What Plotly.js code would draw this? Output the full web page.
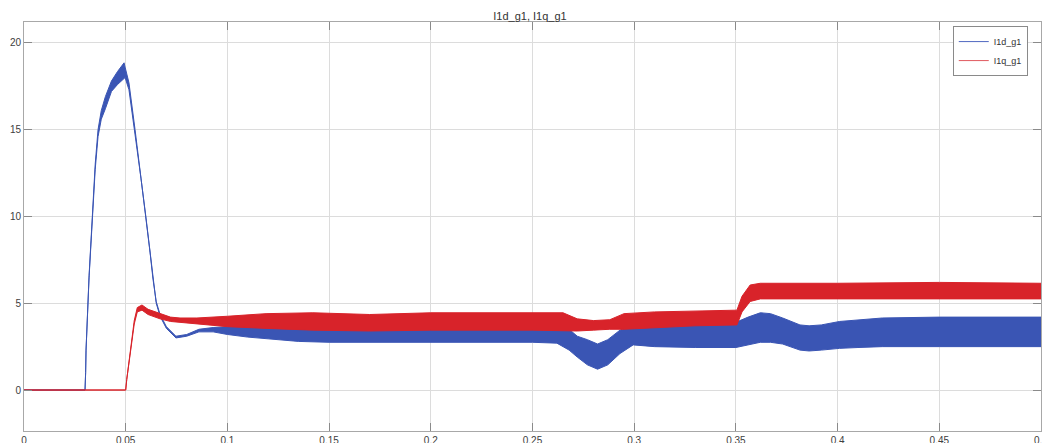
<!DOCTYPE html>
<html>
<head>
<meta charset="utf-8">
<script src="https://cdn.plot.ly/plotly-3.0.1.min.js"></script>
<style>
  html, body { margin: 0; padding: 0; background: #ffffff; }
  #chart { width: 1042px; height: 443px; }
</style>
</head>
<body>
<div id="chart"></div>
<script>
// ---- Data (envelopes of the oscillating signals) ----
const seriesNames = ["I1d_g1", "I1q_g1"];

// I1d_g1 (blue) envelope
const tD = [0, 0.03, 0.0303, 0.0305, 0.032, 0.0334, 0.035, 0.0364, 0.038, 0.040, 0.043, 0.046, 0.0492, 0.0497,
            0.0516, 0.0546, 0.0575, 0.060, 0.062, 0.0634, 0.065, 0.0669, 0.070, 0.0747, 0.080, 0.086, 0.093, 0.100,
            0.11, 0.12, 0.135, 0.15, 0.2, 0.25, 0.262, 0.268, 0.272, 0.277, 0.282, 0.287, 0.293, 0.2995, 0.31, 0.33,
            0.35, 0.356, 0.362, 0.367, 0.373, 0.3815, 0.386, 0.392, 0.401, 0.41, 0.422, 0.45, 0.48, 0.5];
const dUpper = [0, 0, 1.0, 2.3, 6.6, 10.0, 13.0, 15.0, 16.1, 16.9, 17.8, 18.35, 18.85, 18.6,
                17.7, 15.0, 12.3, 10.0, 7.9, 6.4, 5.1, 4.35, 3.65, 3.1, 3.2, 3.5, 3.6, 3.65,
                3.75, 3.85, 3.9, 3.95, 4.0, 4.0, 3.9, 3.5, 3.1, 2.9, 2.65, 2.9, 3.45, 3.75, 3.9, 3.85,
                3.9, 4.2, 4.45, 4.4, 4.15, 3.75, 3.7, 3.75, 3.95, 4.05, 4.15, 4.2, 4.2, 4.2];
const dLower = [0, 0, 1.0, 2.3, 6.5, 9.8, 12.7, 14.6, 15.6, 16.2, 17.2, 17.6, 17.95, 18.0,
                17.3, 14.8, 12.2, 9.9, 7.8, 6.3, 5.0, 4.25, 3.55, 3.0, 3.1, 3.35, 3.35, 3.2,
                3.05, 2.95, 2.8, 2.75, 2.75, 2.75, 2.7, 2.3, 1.9, 1.45, 1.2, 1.45, 2.1, 2.6, 2.5, 2.45,
                2.45, 2.6, 2.75, 2.75, 2.65, 2.3, 2.25, 2.3, 2.4, 2.45, 2.5, 2.5, 2.5, 2.5];

// I1q_g1 (red) envelope
const tQ = [0, 0.05, 0.0505, 0.0526, 0.0542, 0.0557, 0.058, 0.061, 0.0669, 0.072, 0.0767, 0.085, 0.1, 0.119,
            0.142, 0.17, 0.2, 0.25, 0.265, 0.272, 0.28, 0.288, 0.295, 0.31, 0.33, 0.3505, 0.353, 0.357, 0.362,
            0.4, 0.45, 0.5];
const qUpper = [0, 0, 0.6, 2.5, 4.0, 4.75, 4.9, 4.65, 4.4, 4.2, 4.15, 4.15, 4.25, 4.4,
                4.45, 4.35, 4.45, 4.45, 4.45, 4.1, 4.0, 4.05, 4.4, 4.5, 4.55, 4.6, 5.4, 6.05, 6.15,
                6.15, 6.2, 6.15];
const qLower = [0, 0, 0.6, 2.4, 3.8, 4.5, 4.6, 4.35, 4.1, 3.95, 3.9, 3.85, 3.65, 3.55,
                3.45, 3.4, 3.45, 3.45, 3.4, 3.4, 3.45, 3.5, 3.5, 3.6, 3.7, 3.75, 4.5, 5.1, 5.25,
                5.25, 5.25, 5.25];

// Axis ticks
const xTickVals = [0, 0.05, 0.1, 0.15, 0.2, 0.25, 0.3, 0.35, 0.4, 0.45, 0.5];
const xTickLabels = ["0", "0.05", "0.1", "0.15", "0.2", "0.25", "0.3", "0.35", "0.4", "0.45", "0.5"];
const yTickVals = [0, 5, 10, 15, 20];
const yTickLabels = ["0", "5", "10", "15", "20"];

// ---- Styling ----
const blue = "#3a55b4";
const red = "#d8232a";

const traces = [
  { x: tD, y: dLower, type: "scatter", mode: "lines", line: { color: blue, width: 1 },
    showlegend: false, hoverinfo: "skip" },
  { x: tD, y: dUpper, type: "scatter", mode: "lines", line: { color: blue, width: 1 },
    fill: "tonexty", fillcolor: blue, showlegend: false, hoverinfo: "skip" },
  { x: tQ, y: qLower, type: "scatter", mode: "lines", line: { color: red, width: 1 },
    showlegend: false, hoverinfo: "skip" },
  { x: tQ, y: qUpper, type: "scatter", mode: "lines", line: { color: red, width: 1 },
    fill: "tonexty", fillcolor: red, showlegend: false, hoverinfo: "skip" },
  { x: [null], y: [null], type: "scatter", mode: "lines", name: seriesNames[0],
    line: { color: "#5068c0", width: 1 } },
  { x: [null], y: [null], type: "scatter", mode: "lines", name: seriesNames[1],
    line: { color: "#e05a5f", width: 1 } }
];

const axisCommon = {
  showgrid: true, gridcolor: "#dcdcdc", gridwidth: 1,
  showline: true, linecolor: "#a8a8a8", linewidth: 1, mirror: "ticks",
  ticks: "inside", ticklen: 8, tickcolor: "#8a8a8a", tickwidth: 1,
  zeroline: false, ticklabeloverflow: "allow",
  tickfont: { family: "Liberation Sans, Arial, sans-serif", size: 10, color: "#404040" }
};

const layout = {
  width: 1042, height: 443,
  margin: { l: 24, r: 1, t: 22, b: 12, pad: 0 },
  paper_bgcolor: "#ffffff", plot_bgcolor: "#ffffff",
  title: {
    text: "I1d_g1, I1q_g1",
    font: { family: "Liberation Sans, Arial, sans-serif", size: 11, color: "#333333" },
    x: 0.4975, xanchor: "center", xref: "paper",
    y: 1 - 16 / 443, yanchor: "middle", yref: "container"
  },
  xaxis: Object.assign({}, axisCommon, {
    range: [0, 0.5], tickmode: "array", tickvals: xTickVals, ticktext: xTickLabels
  }),
  yaxis: Object.assign({}, axisCommon, {
    range: [-2.36, 21.2], tickmode: "array", tickvals: yTickVals, ticktext: yTickLabels
  }),
  legend: {
    x: 0.987, xanchor: "right", y: 0.99, yanchor: "top",
    bgcolor: "#ffffff", bordercolor: "#8a8a8a", borderwidth: 1,
    font: { family: "Liberation Sans, Arial, sans-serif", size: 9, color: "#333333" },
    itemwidth: 30, tracegroupgap: 0, traceorder: "normal"
  },
  showlegend: true
};

Plotly.newPlot("chart", traces, layout, { displayModeBar: false, staticPlot: true });
</script>
</body>
</html>
